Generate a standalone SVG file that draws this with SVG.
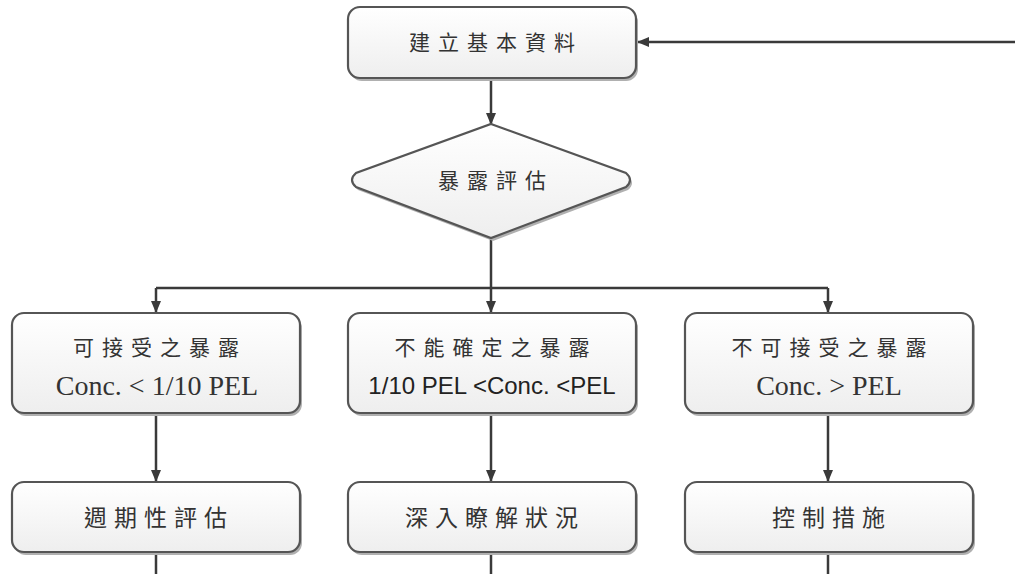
<svg xmlns="http://www.w3.org/2000/svg" width="1015" height="574" viewBox="0 0 1015 574">
<defs>
<linearGradient id="g" x1="0" y1="0" x2="0" y2="1">
<stop offset="0" stop-color="#ffffff"/>
<stop offset="1" stop-color="#eeeeee"/>
</linearGradient>
<marker id="a" viewBox="0 0 12 12" refX="11" refY="6" markerWidth="12" markerHeight="12" orient="auto" markerUnits="userSpaceOnUse">
<path d="M0,1 L12,6 L0,11 z" fill="#3a3a3a"/>
</marker>
</defs>
<style>
.box{fill:url(#g);stroke:#555;stroke-width:2.2}
.sh{fill:#b0b0b0}
.cj{font-family:"Noto Sans CJK TC","Noto Sans CJK SC",sans-serif;font-size:21px;fill:#333;text-anchor:middle;letter-spacing:8px}
.cb{font-family:"Noto Sans CJK TC","Noto Sans CJK SC",sans-serif;font-size:23px;fill:#333;text-anchor:middle;letter-spacing:7px}
.lt{font-family:"Liberation Serif",serif;font-size:28px;fill:#333;text-anchor:middle}
.ls{font-family:"Liberation Sans",sans-serif;font-size:24px;fill:#222;text-anchor:middle}
.c{fill:none;stroke:#3a3a3a;stroke-width:2.5}
</style>
<rect width="1015" height="574" fill="#ffffff"/>
<g id="connectors">
<path class="c" d="M1015,42 L638,42" marker-end="url(#a)"/>
<path class="c" d="M491,79 L491,124" marker-end="url(#a)"/>
<path class="c" d="M491,238 L491,288"/>
<path class="c" d="M156,288 L828,288"/>
<path class="c" d="M156,288 L156,312" marker-end="url(#a)"/>
<path class="c" d="M491,288 L491,312" marker-end="url(#a)"/>
<path class="c" d="M828,288 L828,312" marker-end="url(#a)"/>
<path class="c" d="M156,414 L156,481" marker-end="url(#a)"/>
<path class="c" d="M491,414 L491,481" marker-end="url(#a)"/>
<path class="c" d="M828,414 L828,481" marker-end="url(#a)"/>
<path class="c" d="M156,553 L156,574"/>
<path class="c" d="M491,553 L491,574"/>
<path class="c" d="M828,553 L828,574"/>
</g>
<g id="n1">
<rect class="sh" x="350" y="10" width="288" height="71" rx="12"/>
<rect class="box" x="348" y="7" width="288" height="71" rx="12"/>
<text class="cj" x="496" y="50">建立基本資料</text>
</g>
<g id="n2">
<path class="sh" d="M493,127 L628,176 Q636,183 628,190 L493,241 L358,190 Q350,183 358,176 Z"/>
<path class="box" d="M491,124 L626,173 Q634,180 626,187 L491,238 L356,187 Q348,180 356,173 Z"/>
<text class="cj" x="496" y="188">暴露評估</text>
</g>
<g id="n3">
<rect class="sh" x="14" y="316" width="288" height="100" rx="12"/>
<rect class="box" x="12" y="313" width="288" height="100" rx="12"/>
<text class="cj" x="160" y="355">可接受之暴露</text>
<text class="lt" x="157" y="395">Conc. &lt; 1/10 PEL</text>
</g>
<g id="n4">
<rect class="sh" x="350" y="316" width="288" height="100" rx="12"/>
<rect class="box" x="348" y="313" width="288" height="100" rx="12"/>
<text class="cj" x="496" y="355">不能確定之暴露</text>
<text class="ls" x="492" y="394">1/10 PEL &lt;Conc. &lt;PEL</text>
</g>
<g id="n5">
<rect class="sh" x="687" y="316" width="288" height="100" rx="12"/>
<rect class="box" x="685" y="313" width="288" height="100" rx="12"/>
<text class="cj" x="833" y="355">不可接受之暴露</text>
<text class="lt" x="829" y="395">Conc. &gt; PEL</text>
</g>
<g id="n6">
<rect class="sh" x="14" y="485" width="288" height="70" rx="12"/>
<rect class="box" x="12" y="482" width="288" height="70" rx="12"/>
<text class="cb" x="159" y="526">週期性評估</text>
</g>
<g id="n7">
<rect class="sh" x="350" y="485" width="288" height="70" rx="12"/>
<rect class="box" x="348" y="482" width="288" height="70" rx="12"/>
<text class="cb" x="495" y="526">深入瞭解狀況</text>
</g>
<g id="n8">
<rect class="sh" x="687" y="485" width="288" height="70" rx="12"/>
<rect class="box" x="685" y="482" width="288" height="70" rx="12"/>
<text class="cb" x="832" y="526">控制措施</text>
</g>
</svg>
